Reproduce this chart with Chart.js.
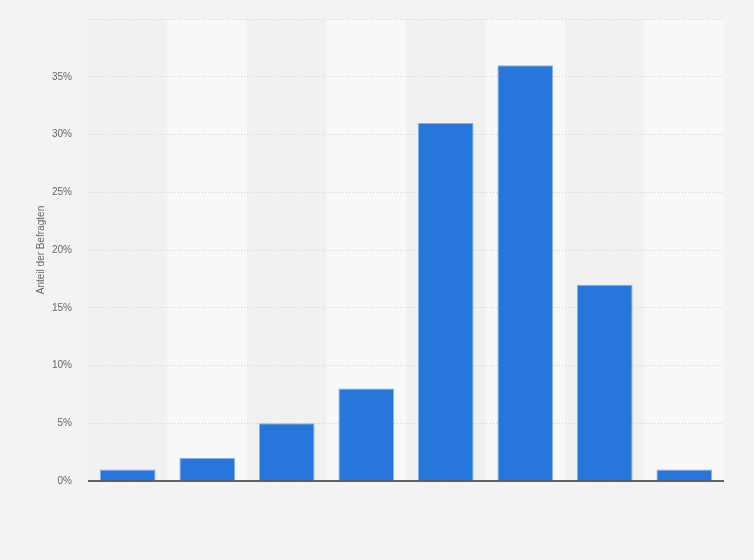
<!DOCTYPE html>
<html>
<head>
<meta charset="utf-8">
<script src="https://cdn.jsdelivr.net/npm/chart.js@4"></script>
<style>
html,body{margin:0;padding:0;background:#f3f3f3;}
#wrap{width:754px;height:560px;}
</style>
</head>
<body>
<div id="wrap"><canvas id="c" width="754" height="560"></canvas></div>
<script>
const categories = ['1', '2', '3', '4', '5', '6', '7', '8'];
const shares = [1, 2, 5, 8, 31, 36, 17, 1];
const yTicks = [0, 5, 10, 15, 20, 25, 30, 35, 40];
const yTitle = 'Anteil der Befragten';

const bandsPlugin = {
  id: 'bands',
  beforeDraw(chart) {
    const {ctx, chartArea, scales} = chart;
    ctx.save();
    ctx.fillStyle = '#f3f3f3';
    ctx.fillRect(0, 0, chart.width, chart.height);
    const x = scales.x;
    const step = (chartArea.right - chartArea.left) / categories.length;
    categories.forEach((c, i) => {
      const cx = x.getPixelForValue(i);
      ctx.fillStyle = i % 2 === 0 ? '#f1f1f1' : '#f8f8f8';
      ctx.fillRect(cx - step / 2, chartArea.top, step, chartArea.bottom - chartArea.top);
    });
    ctx.restore();
  },
  afterDatasetsDraw(chart) {
    const {ctx, chartArea, scales} = chart;
    const y0 = scales.y.getPixelForValue(0);
    ctx.save();
    ctx.strokeStyle = '#333333';
    ctx.lineWidth = 1.5;
    ctx.beginPath();
    ctx.moveTo(chartArea.left, y0);
    ctx.lineTo(chartArea.right, y0);
    ctx.stroke();
    ctx.restore();
  }
};

new Chart(document.getElementById('c'), {
  type: 'bar',
  data: {
    labels: categories,
    datasets: [{
      data: shares,
      backgroundColor: '#2676db',
      borderColor: 'rgba(120,170,235,0.9)',
      borderWidth: 1,
      categoryPercentage: 1,
      barPercentage: 0.7
    }]
  },
  options: {
    responsive: false,
    animation: false,
    devicePixelRatio: 1,
    layout: {padding: {left: 31, right: 30, top: 19, bottom: 79}},
    plugins: {legend: {display: false}, tooltip: {enabled: false}},
    scales: {
      x: {display: false},
      y: {
        min: 0, max: 40,
        afterBuildTicks(scale) { scale.ticks = yTicks.map(v => ({value: v})); },
        afterFit(scale) { scale.width = 57; scale.paddingTop = 0; scale.paddingBottom = 0; },
        border: {display: false, dash: [1, 2]},
        grid: {color: '#cfcfcf', drawTicks: false, lineWidth: 1},
        ticks: {
          padding: 16,
          color: '#666666',
          font: {family: 'Arial, Liberation Sans, sans-serif', size: 10},
          callback: v => v === 40 ? '' : v + '%'
        },
        title: {
          display: true,
          text: yTitle,
          color: '#666666',
          font: {family: 'Arial, Liberation Sans, sans-serif', size: 10},
          padding: {top: 4, bottom: 4}
        }
      }
    }
  },
  plugins: [bandsPlugin]
});
</script>
</body>
</html>
